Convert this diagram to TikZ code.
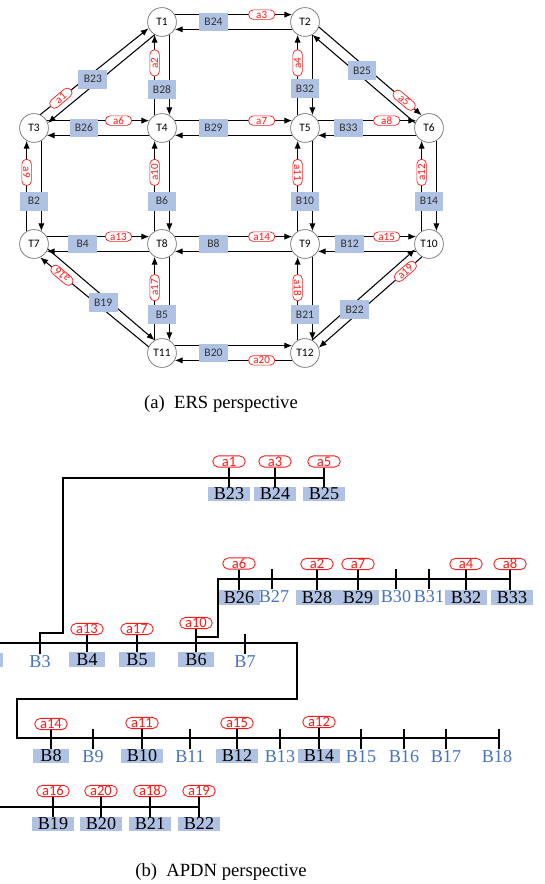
\documentclass[tikz,border=0pt]{standalone}
\usepackage{fontspec}
\setmainfont{Liberation Serif}
\newfontfamily\calfont{Carlito}
\usetikzlibrary{arrows.meta,calc}

\definecolor{busblue}{RGB}{176,194,228}
\definecolor{nameblue}{RGB}{68,114,196}
\definecolor{flagred}{RGB}{255,25,25}

\tikzset{
  tnode/.style={circle, draw=black!55, fill=white, line width=0.4pt,
    minimum size=16.4pt, inner sep=0pt, font=\calfont\fontsize{6.5}{7}\selectfont},
  bbox/.style={fill=busblue, minimum width=16.4pt, minimum height=10.8pt,
    inner sep=0pt, text=black!80, font=\calfont\fontsize{6.6}{7}\selectfont},
  aflag/.style={draw=flagred, text=flagred, fill=white, rounded corners=2.7pt,
    minimum width=15pt, minimum height=5.4pt, inner sep=0pt, line width=0.4pt,
    font=\calfont\fontsize{6.3}{6}\selectfont},
  link/.style={line width=0.6pt, -{Latex[length=4.5pt,width=3.6pt]}},
  hbus/.style={fill=busblue, text=black, minimum width=20.5pt, inner xsep=3.2pt,
    inner ysep=0.4pt, text height=6.8pt, text depth=0.5pt,
    font=\fontsize{10.3}{10}\selectfont},
  pbus/.style={text=nameblue, inner sep=0.5pt, font=\fontsize{10.3}{10}\selectfont},
  bflag/.style={draw=flagred, text=flagred, fill=white, rounded corners=3.2pt,
    minimum width=18.5pt, minimum height=6.4pt, inner sep=0pt, line width=0.5pt,
    font=\calfont\fontsize{8.3}{8}\selectfont},
  feeder/.style={line width=1.1pt},
  caption/.style={font=\fontsize{10.6}{11}\selectfont}
}

\begin{document}
\begin{tikzpicture}[x=0.02cm, y=-0.02cm]
  \useasboundingbox (0,0) rectangle (544,884);

  % (a) ERS perspective
  \node[tnode] (T1) at (162,22) {T1};
  \node[tnode] (T2) at (305,22) {T2};
  \node[tnode] (T3) at (34,128) {T3};
  \node[tnode] (T4) at (162,128) {T4};
  \node[tnode] (T5) at (305,128) {T5};
  \node[tnode] (T6) at (429,128) {T6};
  \node[tnode] (T7) at (34,244) {T7};
  \node[tnode] (T8) at (162,244) {T8};
  \node[tnode] (T9) at (305,244) {T9};
  \node[tnode] (T10) at (429,244) {T10};
  \node[tnode] (T11) at (162,353) {T11};
  \node[tnode] (T12) at (305,353) {T12};

  % horizontal pairs
  \draw[link] (T1.30) -- node[aflag, pos=0.74] (f3) {a3} (T2.150);
  \draw[link] (T2.210) -- (T1.330);
  \draw[link] (T3.30) -- node[aflag, pos=0.70] (f6) {a6} (T4.150);
  \draw[link] (T4.210) -- (T3.330);
  \draw[link] (T4.30) -- node[aflag, pos=0.74] (f7) {a7} (T5.150);
  \draw[link] (T5.210) -- (T4.330);
  \draw[link] (T5.30) -- node[aflag, pos=0.70] (f8) {a8} (T6.150);
  \draw[link] (T6.210) -- (T5.330);
  \draw[link] (T7.30) -- node[aflag, pos=0.70] (f13) {a13} (T8.150);
  \draw[link] (T8.210) -- (T7.330);
  \draw[link] (T8.30) -- node[aflag, pos=0.74] (f14) {a14} (T9.150);
  \draw[link] (T9.210) -- (T8.330);
  \draw[link] (T9.30) -- node[aflag, pos=0.70] (f15) {a15} (T10.150);
  \draw[link] (T10.210) -- (T9.330);
  \draw[link] (T11.30) -- (T12.150);
  \draw[link] (T12.210) -- node[aflag, pos=0.26] (f20) {a20} (T11.330);

  % vertical pairs
  \draw[link] (T4.120) -- node[aflag, pos=0.65, rotate=90] (f2) {a2} (T1.240);
  \draw[link] (T1.300) -- (T4.60);
  \draw[link] (T5.120) -- node[aflag, pos=0.65, rotate=90] (f4) {a4} (T2.240);
  \draw[link] (T2.300) -- (T5.60);
  \draw[link] (T7.120) -- node[aflag, pos=0.65, rotate=-90] (f9) {a9} (T3.240);
  \draw[link] (T3.300) -- (T7.60);
  \draw[link] (T8.120) -- node[aflag, pos=0.65, rotate=90] (f10) {a10} (T4.240);
  \draw[link] (T4.300) -- (T8.60);
  \draw[link] (T9.120) -- node[aflag, pos=0.65, rotate=-90] (f11) {a11} (T5.240);
  \draw[link] (T5.300) -- (T9.60);
  \draw[link] (T10.120) -- node[aflag, pos=0.65, rotate=90] (f12) {a12} (T6.240);
  \draw[link] (T6.300) -- (T10.60);
  \draw[link] (T11.120) -- node[aflag, pos=0.63, rotate=90] (f17) {a17} (T8.240);
  \draw[link] (T8.300) -- (T11.60);
  \draw[link] (T12.120) -- node[aflag, pos=0.63, rotate=-90] (f18) {a18} (T9.240);
  \draw[link] (T9.300) -- (T12.60);

  % diagonal pairs
  \draw[link] (T3.65) -- node[aflag, pos=0.19, rotate=40] (f1) {a1} (T1.205);
  \draw[link] (T1.240) -- (T3.20);
  \draw[link] (T2.340) -- node[aflag, pos=0.83, rotate=-40] (f5) {a5} (T6.120);
  \draw[link] (T6.160) -- (T2.300);
  \draw[link] (T7.340) -- (T11.120);
  \draw[link] (T11.155) -- node[aflag, pos=0.80, rotate=140] (f16) {a16} (T7.295);
  \draw[link] (T12.61) -- (T10.201);
  \draw[link] (T10.241) -- node[aflag, pos=0.16, rotate=41] (f19) {a19} (T12.21);

  % buses on the lines
  \node[bbox] (b24) at ($(T1)!0.36!(T2)$) {B24};
  \node[bbox] (b26) at ($(T3)!0.39!(T4)$) {B26};
  \node[bbox] (b29) at ($(T4)!0.36!(T5)$) {B29};
  \node[bbox] (b33) at ($(T5)!0.35!(T6)$) {B33};
  \node[bbox] (b4) at ($(T7)!0.38!(T8)$) {B4};
  \node[bbox] (b8) at ($(T8)!0.36!(T9)$) {B8};
  \node[bbox] (b12) at ($(T9)!0.36!(T10)$) {B12};
  \node[bbox] (b20) at ($(T11)!0.36!(T12)$) {B20};
  \node[bbox] (b28) at ($(T1)!0.64!(T4)$) {B28};
  \node[bbox] (b32) at ($(T2)!0.63!(T5)$) {B32};
  \node[bbox] (b2) at ($(T3)!0.63!(T7)$) {B2};
  \node[bbox] (b6) at ($(T4)!0.63!(T8)$) {B6};
  \node[bbox] (b10) at ($(T5)!0.63!(T9)$) {B10};
  \node[bbox] (b14) at ($(T6)!0.63!(T10)$) {B14};
  \node[bbox] (b5) at ($(T8)!0.65!(T11)$) {B5};
  \node[bbox] (b21) at ($(T9)!0.65!(T12)$) {B21};
  \node[bbox] (b23) at ($(T1)!0.54!(T3)$) {B23};
  \node[bbox] (b25) at ($(T2)!0.46!(T6)$) {B25};
  \node[bbox] (b19) at ($(T7)!0.54!(T11)$) {B19};
  \node[bbox] (b22) at ($(T12)!0.40!(T10)$) {B22};

  \node[caption] (capa) at (221,404) {(a)\enspace ERS perspective};

  % (b) APDN perspective
  \coordinate (r1w) at (63,478);
  \coordinate (r1e) at (324,478);
  \coordinate (r2w) at (218,579);
  \coordinate (r2e) at (510,579);
  \coordinate (r3w) at (-5,643);
  \coordinate (r3e) at (297,643);
  \coordinate (r3c) at (297,699);
  \coordinate (r4w) at (17,738);
  \coordinate (r4e) at (499,738);
  \coordinate (r5w) at (-5,807);
  \coordinate (r5e) at (199,807);
  \coordinate (k3) at (40,633);
  \coordinate (k6) at (196,637);

  % row 1
  \node[hbus] (p23) at (229,494) {B23};
  \node[hbus] (p24) at (275,494) {B24};
  \node[hbus] (p25) at (324,494) {B25};
  \node[bflag] (q1) at (229,461.5) {a1};
  \node[bflag] (q3) at (275,461.5) {a3};
  \node[bflag] (q5) at (324,461.5) {a5};

  % row 2
  \node[hbus] (p26) at (239,597.5) {B26};
  \node[pbus, below] (p27) at (274,589) {B27};
  \node[hbus] (p28) at (317,597.5) {B28};
  \node[hbus] (p29) at (358,597.5) {B29};
  \node[pbus, below] (p30) at (396,589) {B30};
  \node[pbus, below] (p31) at (429,589) {B31};
  \node[hbus] (p32) at (466,597.5) {B32};
  \node[hbus] (p33) at (512,597.5) {B33};
  \node[bflag] (q6) at (239,563.5) {a6};
  \node[bflag] (q2) at (317,564) {a2};
  \node[bflag] (q7) at (358,564) {a7};
  \node[bflag] (q4) at (466,564) {a4};
  \node[bflag] (q8) at (510,564) {a8};

  % row 3
  \fill[busblue] (-10,653) rectangle (3,667);
  \node[pbus, below] (p3) at (40,654) {B3};
  \node[hbus] (p4) at (87,659.5) {B4};
  \node[hbus] (p5) at (137,659.5) {B5};
  \node[hbus] (p6) at (196,659.5) {B6};
  \node[pbus, below] (p7) at (245,654) {B7};
  \node[bflag] (q13) at (87,629) {a13};
  \node[bflag] (q17) at (137,629) {a17};
  \node[bflag] (q10) at (196,623) {a10};

  % row 4
  \node[hbus] (p8) at (51,756) {B8};
  \node[pbus, below] (p9) at (93,749) {B9};
  \node[hbus] (p10) at (142,756) {B10};
  \node[pbus, below] (p11) at (190,749) {B11};
  \node[hbus] (p12) at (237,756) {B12};
  \node[pbus, below] (p13) at (280,749) {B13};
  \node[hbus] (p14) at (319,756) {B14};
  \node[pbus, below] (p15) at (361,749) {B15};
  \node[pbus, below] (p16) at (404,749) {B16};
  \node[pbus, below] (p17) at (446,749) {B17};
  \node[pbus, below] (p18) at (497,749) {B18};
  \node[bflag] (q14) at (51,724) {a14};
  \node[bflag] (q11) at (142,723) {a11};
  \node[bflag] (q15) at (237,723) {a15};
  \node[bflag] (q12) at (319,722) {a12};

  % row 5
  \node[hbus] (p19) at (53,824) {B19};
  \node[hbus] (p20) at (101,824) {B20};
  \node[hbus] (p21) at (150,824) {B21};
  \node[hbus] (p22) at (199,824) {B22};
  \node[bflag] (q16) at (53,791) {a16};
  \node[bflag] (q20) at (101,791) {a20};
  \node[bflag] (q18) at (150,791) {a18};
  \node[bflag] (q19) at (199,791) {a19};

  % feeders
  \draw[feeder] (r1e) -- (r1w) |- (k3) -- (p3.north);
  \draw[feeder] (r2e) -- (r2w) |- (k6);
  \draw[feeder] (r3w) -- (r3e) -- (r3c) -| (r4w) -- (r4e);
  \draw[feeder] (r5w) -- (r5e);

  % ticks
  \draw[feeder] (q1) -- (p23);
  \draw[feeder] (q3) -- (p24);
  \draw[feeder] (q5) -- (p25);
  \draw[feeder] (q6) -- (p26);
  \draw[feeder] (p27.north) ++(-2,0) -- ++(0,-20);
  \draw[feeder] (q2) -- (p28);
  \draw[feeder] (q7) -- (p29);
  \draw[feeder] (p30.north) -- ++(0,-20);
  \draw[feeder] (p31.north) -- ++(0,-20);
  \draw[feeder] (q4) -- (p32);
  \draw[feeder] (q8) -- (p33.north -| q8);
  \draw[feeder] (q13) -- (p4);
  \draw[feeder] (q17) -- (p5);
  \draw[feeder] (q10) -- (p6);
  \draw[feeder] (p7.north) -- ++(0,-20);
  \draw[feeder] (q14) -- (p8);
  \draw[feeder] (p9.north) -- ++(0,-20);
  \draw[feeder] (q11) -- (p10);
  \draw[feeder] (p11.north) -- ++(0,-20);
  \draw[feeder] (q15) -- (p12);
  \draw[feeder] (p13.north) -- ++(0,-20);
  \draw[feeder] (q12) -- (p14);
  \draw[feeder] (p15.north) -- ++(0,-20);
  \draw[feeder] (p16.north) -- ++(0,-20);
  \draw[feeder] (p17.north) -- ++(0,-20);
  \draw[feeder] (p18.north) ++(2,0) -- ++(0,-20);
  \draw[feeder] (q16) -- (p19);
  \draw[feeder] (q20) -- (p20);
  \draw[feeder] (q18) -- (p21);
  \draw[feeder] (q19) -- (p22);

  \node[caption] (capb) at (221,872) {(b)\enspace APDN perspective};
\end{tikzpicture}
\end{document}
